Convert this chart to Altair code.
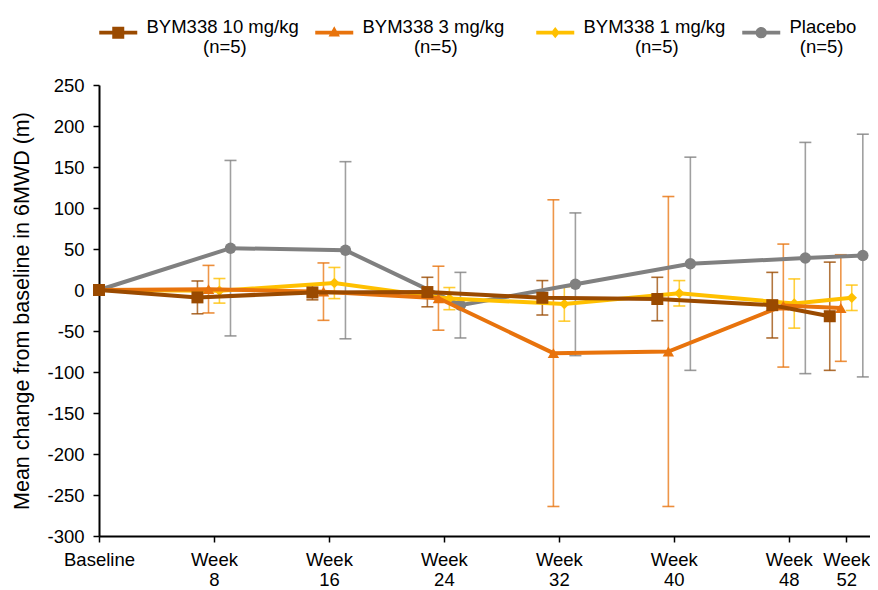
import altair as alt
import pandas as pd

FONT = "Liberation Sans"

# ---- data ----
weeks = [0, 8, 16, 24, 32, 40, 48, 52]
week_labels = ["Baseline", "Week\n8", "Week\n16", "Week\n24", "Week\n32",
               "Week\n40", "Week\n48", "Week\n52"]
series = ["BYM338 10 mg/kg", "BYM338 3 mg/kg", "BYM338 1 mg/kg", "Placebo"]
n_labels = ["(n=5)", "(n=5)", "(n=5)", "(n=5)"]

mean_10 = [0, -9, -3, -2.5, -9.5, -11, -18.5, -32]
err_10 = [None, 20, 9, 18, 21, 26.5, 40, 66]
mean_3 = [0, 1, -2, -10, -77, -75, -19, -22]
err_3 = [None, 29, 35, 39, 187, 189, 75, 65]
mean_1 = [0, -1, 8.5, -10.5, -17, -4, -16.5, -9.5]
err_1 = [None, 15, 19, 13.5, 21, 15.5, 30, 15.5]
mean_p = [0, 51, 48.5, -18.5, 7, 32, 39, 42]
err_p = [None, 107, 108, 40, 87, 130, 141, 148]

y_ticks = list(range(-300, 251, 50))

# ---- styles ----
colors = ["#9A4A00", "#E8730C", "#FFC000", "#808080"]
dodge = [-1.15, -0.38, 0.38, 1.15]          # horizontal dodge in weeks
shapes = ["square", "triangle-up", "diamond", "circle"]
sizes = [144, 130, 110, 130]
pads = [11, 10, 10, 2]                       # spaces to centre second legend line
trail = [0, 3, 0, 0]                         # extra spacing after a legend entry
legend_paths = [
    "M-3.167,-0.333H3.167V0.333H-3.167Z M-1,-1H1V1H-1Z",
    "M-3.167,-0.333H3.167V0.333H-3.167Z M0,-1.05L0.95,0.65L-0.95,0.65Z",
    "M-3.167,-0.333H3.167V0.333H-3.167Z M0,-0.95L0.75,0L0,0.95L-0.75,0Z",
    "M-3.167,-0.333H3.167V0.333H-3.167Z M0.95,0A0.95,0.95 0 1,1 -0.95,0A0.95,0.95 0 1,1 0.95,0Z",
]

means = [mean_10, mean_3, mean_1, mean_p]
errs = [err_10, err_3, err_1, err_p]

rows = []
for i, s in enumerate(series):
    for j, w in enumerate(weeks):
        m = means[i][j]
        e = errs[i][j]
        rows.append({
            "series": s,
            "week": w,
            "x": w + dodge[i] if w > 0 else 0,
            "mean": m,
            "lo": m - e if e is not None else None,
            "hi": m + e if e is not None else None,
        })
df = pd.DataFrame(rows)

# ---- label expressions ----
x_expr = ""
for w, lab in zip(weeks, week_labels):
    parts = ", ".join("'" + p + "'" for p in lab.split("\n"))
    x_expr += f"datum.value == {w} ? [{parts}] : "
x_expr += "''"

ZW = "\u200b"
NB = "\u00a0"
leg_expr = ""
for s, n, p, t in zip(series, n_labels, pads, trail):
    first = s + (NB * t + ZW if t else "")
    leg_expr += f"datum.label == '{s}' ? ['{first}', '{ZW}{NB * p}{n}'] : "
leg_expr += "datum.label"

x_enc = alt.X(
    "x:Q",
    scale=alt.Scale(domain=[0, 53.65], nice=False, zero=False),
    axis=alt.Axis(values=weeks, labelExpr=x_expr, title=None, grid=False,
                  labelLineHeight=20, labelPadding=8, tickSize=6, labelAngle=0,
                  labelOverlap=False, labelFlush=False),
)
y_axis = alt.Axis(values=y_ticks, labelExpr="datum.value + ''",
                  title="Mean change from baseline in 6MWD (m)", grid=False,
                  titleFontSize=21.5, titlePadding=13, labelPadding=9, tickSize=6)
y_scale = alt.Scale(domain=[-300, 250], nice=False, zero=False)

base = alt.Chart(df)
layers = []
order = [3, 2, 1, 0]

# error bars
for i in order:
    sub = base.transform_filter(alt.datum.series == series[i]).transform_filter("isValid(datum.lo)")
    layers.append(sub.mark_rule(color=colors[i], strokeWidth=1.6, opacity=0.75).encode(
        x=x_enc, y=alt.Y("lo:Q", scale=y_scale, axis=y_axis), y2="hi:Q"))
    for f in ["lo", "hi"]:
        layers.append(sub.mark_point(shape="stroke", size=144, color=colors[i], filled=False,
                                     strokeWidth=1.6, opacity=0.8).encode(
            x=x_enc, y=alt.Y(f + ":Q", scale=y_scale, axis=y_axis)))

# lines and markers
for i in order:
    sub = base.transform_filter(alt.datum.series == series[i])
    layers.append(sub.mark_line(color=colors[i], strokeWidth=4).encode(
        x=x_enc, y=alt.Y("mean:Q", scale=y_scale, axis=y_axis), order="week:Q"))
    layers.append(sub.mark_point(shape=shapes[i], size=sizes[i], filled=True, color=colors[i],
                                 opacity=1).encode(
        x=x_enc, y=alt.Y("mean:Q", scale=y_scale, axis=y_axis)))

# legend (drawn from the scale domain only)
legend = alt.Legend(orient="top", direction="horizontal", title=None, symbolSize=144,
                    symbolStrokeWidth=0, symbolOffset=10, labelOffset=19,
                    labelFontSize=18.5, labelFont=FONT, labelColor="black", labelLimit=400,
                    labelExpr=leg_expr, labelBaseline="alphabetic", columnPadding=16,
                    offset=28, padding=0, symbolOpacity=1)
leg_layer = base.transform_filter("false").mark_point(filled=True, opacity=1).encode(
    color=alt.Color("series:N", scale=alt.Scale(domain=series, range=colors), legend=legend),
    shape=alt.Shape("series:N", scale=alt.Scale(domain=series, range=legend_paths), legend=legend),
)
layers.append(leg_layer)

chart = alt.layer(*layers).properties(
    width=771, height=451,
    autosize=alt.AutoSizeParams(type="none"),
    padding={"left": 91, "top": 77, "right": 0, "bottom": 52},
).configure_view(stroke=None).configure_axis(
    domainColor="black", domainWidth=2, tickColor="black", tickWidth=1.5,
    labelColor="black", titleColor="black", labelFont=FONT, titleFont=FONT,
    labelFontSize=18.5, titleFontWeight="normal",
)

chart.save("out.html", embed_options={"renderer": "svg", "actions": False})
